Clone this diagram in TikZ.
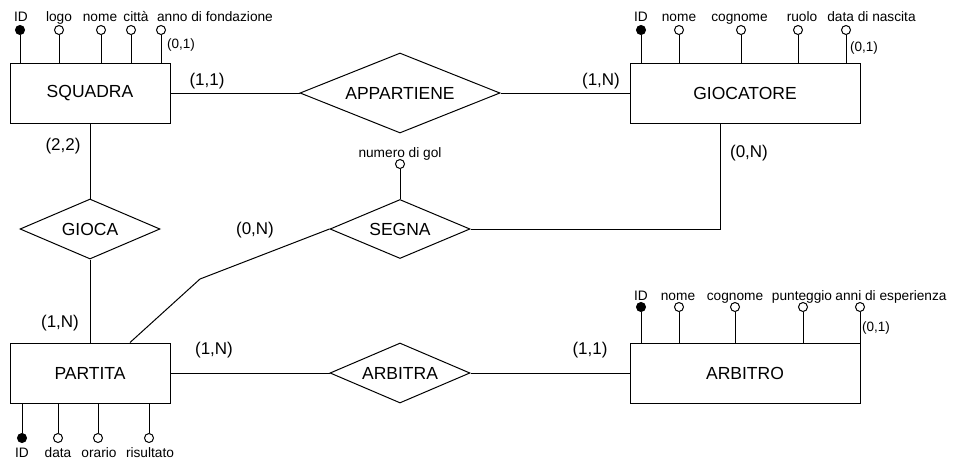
\documentclass[tikz,border=0pt]{standalone}
\usepackage{fontspec}
\setmainfont{Liberation Sans}
\usetikzlibrary{shapes.geometric}

\tikzset{
  entity/.style={draw, line width=1pt, inner sep=0pt, minimum height=60pt,
    font=\fontsize{17.5}{20}\selectfont},
  relation/.style={draw, diamond, aspect=3, line width=1pt, inner sep=0pt,
    font=\fontsize{17.5}{20}\selectfont},
  attr/.style={draw, circle, line width=1pt, fill=white, minimum size=9pt, inner sep=0pt},
  keyattr/.style={attr, fill=black},
  attrname/.style={inner sep=0pt, anchor=base, font=\fontsize{13.7}{16}\selectfont},
  card/.style={inner sep=0pt, font=\fontsize{17}{20}\selectfont},
  smallcard/.style={inner sep=0pt, font=\fontsize{13.5}{16}\selectfont},
}

\begin{document}
\begin{tikzpicture}[x=1pt,y=-1pt,line width=1pt]
      \useasboundingbox[fill=white] (0,0) rectangle (966,469);
      % Drawing entities
      \node[entity, minimum width=160pt] (squadra) at (90,93) {SQUADRA};
      \node[entity, minimum width=230pt] (giocatore) at (745,93) {GIOCATORE};
      \node[entity, minimum width=160pt] (partita) at (90,373) {PARTITA};
      \node[entity, minimum width=230pt] (arbitro) at (745,373) {ARBITRO};
      % Drawing relations
      \node[relation, minimum width=200pt, minimum height=80pt] (appartiene) at (400,93) {APPARTIENE};
      \node[relation, minimum width=140pt, minimum height=60pt] (gioca) at (90,229) {GIOCA};
      \node[relation, minimum width=140pt, minimum height=59pt] (segna) at (400,229) {SEGNA};
      \node[relation, minimum width=140pt, minimum height=60pt] (arbitra) at (400,373) {ARBITRA};
      % Attributes of SQUADRA
      \node[keyattr] (sqid) at (20,30) {};
      \node[attrname] (sqidname) at (21,21) {ID};
      \node[attr] (sqlogo) at (59,30) {};
      \node[attrname] (sqlogoname) at (59,21) {logo};
      \node[attr] (sqnome) at (101,30) {};
      \node[attrname] (sqnomename) at (100,21) {nome};
      \node[attr] (sqcitta) at (131,30) {};
      \node[attrname] (sqcittaname) at (136,21) {città};
      \node[attr] (sqanno) at (161,30) {};
      \node[attrname] (sqannoname) at (215,21) {anno di fondazione};
      \node[smallcard] (sqannocard) at (181,45) {(0,1)};
      \draw (sqid.south) -- (squadra.north -| sqid);
      \draw (sqlogo.south) -- (squadra.north -| sqlogo);
      \draw (sqnome.south) -- (squadra.north -| sqnome);
      \draw (sqcitta.south) -- (squadra.north -| sqcitta);
      \draw (sqanno.south) -- (squadra.north -| sqanno);
      % Attributes of GIOCATORE
      \node[keyattr] (gcid) at (641,30) {};
      \node[attrname] (gcidname) at (641,21) {ID};
      \node[attr] (gcnome) at (679,30) {};
      \node[attrname] (gcnomename) at (679,21) {nome};
      \node[attr] (gccognome) at (741,30) {};
      \node[attrname] (gccognomename) at (739.5,21) {cognome};
      \node[attr] (gcruolo) at (798,30) {};
      \node[attrname] (gcruoloname) at (802,21) {ruolo};
      \node[attr] (gcnascita) at (846,30) {};
      \node[attrname] (gcnascitaname) at (871.5,21) {data di nascita};
      \node[smallcard] (gcnascitacard) at (864,48) {(0,1)};
      \draw (gcid.south) -- (giocatore.north -| gcid);
      \draw (gcnome.south) -- (giocatore.north -| gcnome);
      \draw (gccognome.south) -- (giocatore.north -| gccognome);
      \draw (gcruolo.south) -- (giocatore.north -| gcruolo);
      \draw (gcnascita.south) -- (giocatore.north -| gcnascita);
      % Attributes of PARTITA
      \node[keyattr] (ptid) at (22,438) {};
      \node[attrname] (ptidname) at (22,457) {ID};
      \node[attr] (ptdata) at (58,438) {};
      \node[attrname] (ptdataname) at (58,457) {data};
      \node[attr] (ptorario) at (98,438) {};
      \node[attrname] (ptorarioname) at (99,457) {orario};
      \node[attr] (ptrisultato) at (149,438) {};
      \node[attrname] (ptrisultatoname) at (150,457) {risultato};
      \draw (ptid.north) -- (partita.south -| ptid);
      \draw (ptdata.north) -- (partita.south -| ptdata);
      \draw (ptorario.north) -- (partita.south -| ptorario);
      \draw (ptrisultato.north) -- (partita.south -| ptrisultato);
      % Attributes of ARBITRO
      \node[keyattr] (arid) at (641,307) {};
      \node[attrname] (aridname) at (641,300) {ID};
      \node[attr] (arnome) at (679,307) {};
      \node[attrname] (arnomename) at (678,300) {nome};
      \node[attr] (arcognome) at (735,307) {};
      \node[attrname] (arcognomename) at (735,300) {cognome};
      \node[attr] (arpunteggio) at (803,307) {};
      \node[attrname] (arpunteggioname) at (802,300) {punteggio};
      \node[attr] (aresperienza) at (860,307) {};
      \node[attrname] (aresperienzaname) at (891,300) {anni di esperienza};
      \node[smallcard] (aresperienzacard) at (876,328) {(0,1)};
      \draw (arid.south) -- (arbitro.north -| arid);
      \draw (arnome.south) -- (arbitro.north -| arnome);
      \draw (arcognome.south) -- (arbitro.north -| arcognome);
      \draw (arpunteggio.south) -- (arbitro.north -| arpunteggio);
      \draw (aresperienza.south) -- (arbitro.north -| aresperienza);
      % Attribute of SEGNA
      \node[attr] (sggol) at (400,164) {};
      \node[attrname] (sggolname) at (400,157) {numero di gol};
      \draw (sggol.south) -- (segna.north);
      % Drawing links
      \draw (squadra.east) -- (appartiene.west);
      \draw (appartiene.east) -- (giocatore.west);
      \draw (squadra.south) -- (gioca.north);
      \draw (gioca.south) -- (partita.north);
      \coordinate (segbend) at (200,279);
      \draw (segna.west) -- (segbend) -- ([xshift=40pt]partita.north);
      \draw (segna.east) -| ([xshift=-25pt]giocatore.south);
      \draw (partita.east) -- (arbitra.west);
      \draw (arbitra.east) -- (arbitro.west);
      % Cardinalities
      \node[card] (apsq) at (207,81) {(1,1)};
      \node[card] (apgc) at (601,81) {(1,N)};
      \node[card] (gisq) at (63,146) {(2,2)};
      \node[card] (gipt) at (60,323) {(1,N)};
      \node[card] (sgpt) at (255,230) {(0,N)};
      \node[card] (sggc) at (749,153) {(0,N)};
      \node[card] (arpt) at (214,350) {(1,N)};
      \node[card] (arar) at (590,350) {(1,1)};
    \end{tikzpicture}
\end{document}
